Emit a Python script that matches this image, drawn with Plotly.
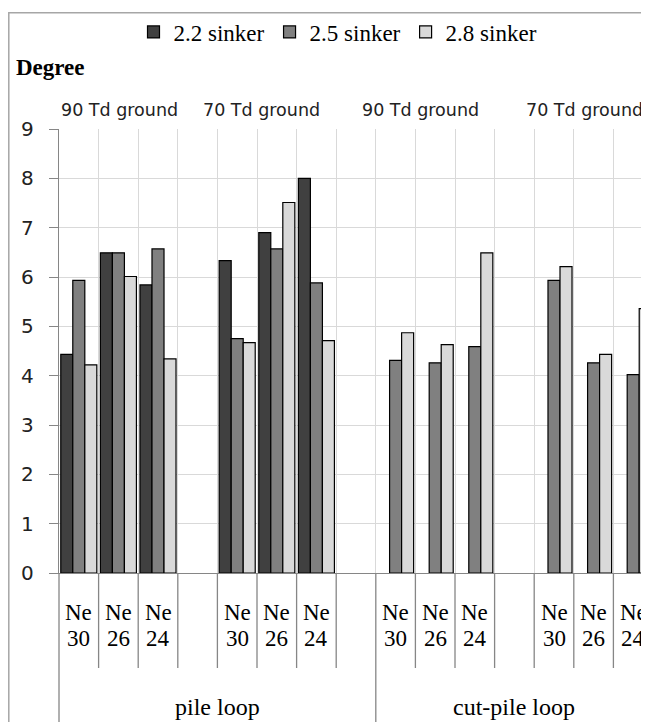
import plotly.graph_objects as go

# ---- data ----
loops = ["pile loop", "cut-pile loop"]
grounds = ["90 Td ground", "70 Td ground"]
count_top = ["Ne", "Ne", "Ne"]
count_num = ["30", "26", "24"]
series_names = ["2.2 sinker", "2.5 sinker", "2.8 sinker"]
# order: pile/90Td (Ne30,26,24), pile/70Td, cut-pile/90Td, cut-pile/70Td
sinker_22 = [4.43, 6.49, 5.84, 6.33, 6.90, 8.00, None, None, None, None, None, None]
sinker_25 = [5.93, 6.49, 6.57, 4.75, 6.57, 5.88, 4.31, 4.26, 4.59, 5.93, 4.26, 4.02]
sinker_28 = [4.22, 6.01, 4.34, 4.67, 7.51, 4.71, 4.87, 4.63, 6.49, 6.21, 4.43, 5.36]
y_ticks = [0, 1, 2, 3, 4, 5, 6, 7, 8, 9]

# ---- category positions (blank slot after each ground group) ----
xpos = []
for li in range(len(loops)):
    for gi in range(len(grounds)):
        for ci in range(len(count_num)):
            xpos.append(li * 8 + gi * 4 + ci)

colors = ["#404040", "#808080", "#d9d9d9"]
fig = go.Figure()
for name, vals, col in zip(series_names, [sinker_22, sinker_25, sinker_28], colors):
    fig.add_trace(go.Bar(x=xpos, y=vals, name=name,
                         marker=dict(color=col, line=dict(color="black", width=1.2))))

# page body has an 8px margin -> figure is 8px smaller
W, H = 641, 714
L, T = 51, 121
PLOT_BOTTOM = 565
B = H - PLOT_BOTTOM
PW, PH = W - L, PLOT_BOTTOM - T
px_per_cat = 39.6
xmax = -0.5 + PW / px_per_cat


def py(yfig):
    return (PLOT_BOTTOM - yfig) / PH


def px(xfig):
    return (xfig - L) / PW


shapes = []
annotations = []
# outer chart frame
shapes.append(dict(type="rect", xref="paper", yref="paper",
                   x0=px(0.8), x1=1.2, y0=-0.6, y1=py(4.7),
                   line=dict(color="#a6a6a6", width=1.5), fillcolor="rgba(0,0,0,0)", layer="below"))
# y axis continuation down through category area
shapes.append(dict(type="line", xref="paper", yref="paper", x0=0, x1=0, y0=0, y1=-0.4,
                   line=dict(color="#868686", width=1.3)))
# category dividers
n_slots = len(loops) * 8
for k in range(1, n_slots):
    long = (k % 8 == 0)
    shapes.append(dict(type="line", xref="x", yref="paper", x0=k - 0.5, x1=k - 0.5,
                       y0=0, y1=(-0.4 if long else py(660)),
                       line=dict(color="#868686", width=1.3)))

ser = dict(family="Liberation Serif, Times New Roman, serif", color="black")
# yarn count labels
for li in range(len(loops)):
    for gi in range(len(grounds)):
        for ci in range(len(count_num)):
            xc = li * 8 + gi * 4 + ci
            annotations.append(dict(x=xc, y=py(604), xref="x", yref="paper",
                                    text=count_top[ci], showarrow=False, font=dict(size=23, **ser),
                                    yanchor="middle", xanchor="center"))
            annotations.append(dict(x=xc, y=py(630), xref="x", yref="paper",
                                    text=count_num[ci], showarrow=False, font=dict(size=23, **ser),
                                    yanchor="middle", xanchor="center"))
# loop labels
for li, lab in enumerate(loops):
    annotations.append(dict(x=li * 8 + 3.5 - (0.5 if li == 1 else 0), y=py(699), xref="x", yref="paper",
                            text=lab, showarrow=False, font=dict(size=24, **ser),
                            yanchor="middle", xanchor="center"))
# ground labels
shift = [0.03, -0.38, -0.37, -0.23]
i = 0
for li in range(len(loops)):
    for gi, lab in enumerate(grounds):
        annotations.append(dict(x=li * 8 + gi * 4 + 1 + shift[i], y=py(102), xref="x", yref="paper",
                                text=lab, showarrow=False,
                                font=dict(family="DejaVu Sans", size=17.5, color="#222"),
                                yanchor="middle", xanchor="center"))
        i += 1
# y axis title
annotations.append(dict(x=px(6), y=py(60), xref="paper", yref="paper",
                        text="<b>Degree</b>", showarrow=False, font=dict(size=23, **ser),
                        xanchor="left", yanchor="middle"))

fig.update_layout(
    width=W, height=H,
    margin=dict(l=L, r=0, t=T, b=B, pad=0),
    paper_bgcolor="white", plot_bgcolor="white",
    barmode="group", bargap=0.09, bargroupgap=0,
    showlegend=True,
    legend=dict(orientation="h", x=px(330), xanchor="center", y=py(24),
                yanchor="middle", font=dict(size=23, **ser), itemwidth=30,
                bgcolor="rgba(0,0,0,0)", traceorder="normal"),
    xaxis=dict(range=[-0.5, xmax], tickmode="array",
               tickvals=[k - 0.5 for k in range(n_slots + 1)],
               ticktext=["" for _ in range(n_slots + 1)],
               showgrid=True, gridcolor="#d9d9d9", gridwidth=1.3,
               showline=True, linecolor="#868686", linewidth=1.3,
               ticks="", zeroline=False, fixedrange=True),
    yaxis=dict(range=[0, 9], tickvals=y_ticks, showgrid=True, gridcolor="#d9d9d9", gridwidth=1.3,
               showline=True, linecolor="#868686", linewidth=1.3,
               ticks="outside", ticklen=9, tickcolor="#868686", tickwidth=1.3,
               ticklabelstandoff=11,
               tickfont=dict(family="DejaVu Sans", size=20, color="#222"),
               zeroline=False),
    shapes=shapes, annotations=annotations,
)
fig.write_html("out.html")
